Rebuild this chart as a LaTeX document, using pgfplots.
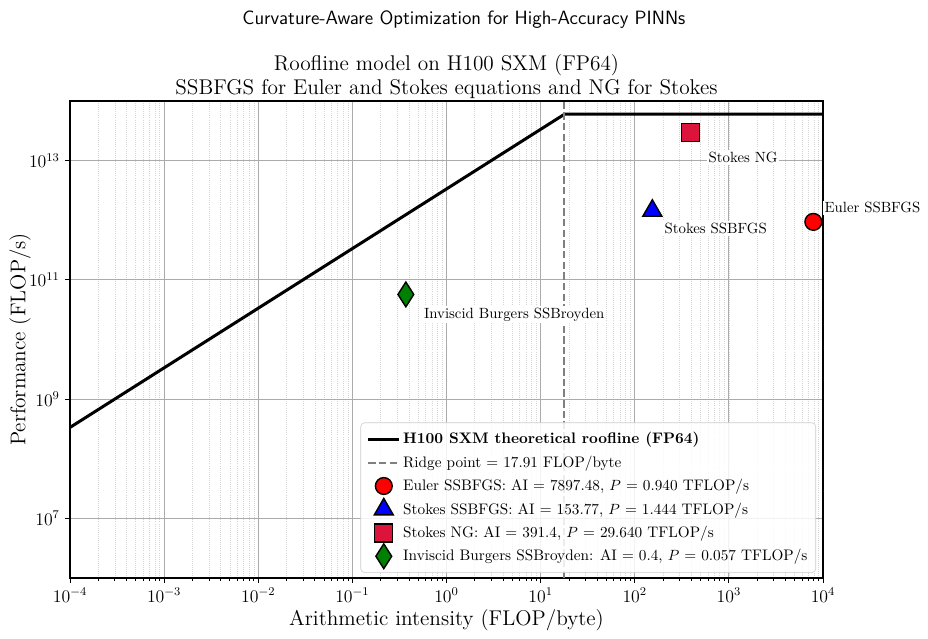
\documentclass[border=0pt]{standalone}
\usepackage{pgfplots}
\pgfplotsset{compat=1.18}
\definecolor{crimson}{RGB}{220,20,60}
\definecolor{mplgreen}{RGB}{0,128,0}
\definecolor{mplgray}{RGB}{128,128,128}
\begin{document}
\begin{tikzpicture}
\useasboundingbox (-47.3pt,-40.54pt) rectangle (579.75pt,390.56pt);
\begin{axis}[
  at={(0,0)}, anchor=south west,
  scale only axis, width=508.8pt, height=322.3pt,
  xmode=log, ymode=log,
  xmin=1e-4, xmax=1e4, ymin=1e6, ymax=1e14,
  xtick={1e-4,1e-3,1e-2,1e-1,1,1e1,1e2,1e3,1e4},
  ytick={1e7,1e9,1e11,1e13},
  minor ytick={},
  tick align=outside,
  major tick length=3.4pt, minor tick length=2pt,
  xtick pos=bottom, ytick pos=left,
  xmajorgrids=true, ymajorgrids=true, xminorgrids=true, yminorgrids=false,
  major grid style={draw=black!33, line width=0.6pt},
  minor grid style={draw=black!16, densely dotted, line width=0.5pt},
  axis line style={line width=1.2pt},
  every tick/.style={black, line width=0.6pt},
  tick label style={font=\fontsize{12}{14}\selectfont},
  clip=false,
  legend style={at={(0.9908,0.0105)}, anchor=south east,
    draw=black!20, rounded corners=2.7pt, fill=white, fill opacity=0.85, text opacity=1,
    font=\fontsize{10.3}{12.4}\selectfont, row sep=2.6pt, inner xsep=4pt, inner ysep=4.5pt,
    nodes={inner xsep=1.6pt}},
  legend cell align=left,
  legend image post style={/tikz/fill opacity=1, /tikz/draw opacity=1},
  legend image code/.code={\draw[mark repeat=2,mark phase=2] plot coordinates {(0cm,0cm) (0.37cm,0cm) (0.74cm,0cm)};},
]
\addplot[black, line width=2.03pt] coordinates {(1e-4,3.35e8) (17.91,6e13) (1e4,6e13)};
\addlegendentry{\textbf{H100 SXM theoretical roofline (FP64)}}
\addplot[mplgray, line width=1.35pt, dash pattern=on 5pt off 2.2pt] coordinates {(17.91,1e6) (17.91,1e14)};
\addlegendentry{Ridge point = 17.91 FLOP/byte}
\addplot[only marks, mark=*, mark size=5.68pt, mark options={fill=red, draw=black, line width=0.95pt},
  legend image code/.code={\draw[overlay] plot coordinates {(0.37cm,0cm)};}] coordinates {(7897.48,9.40e11)};
\addlegendentry{Euler SSBFGS: AI = 7897.48, $P$ = 0.940 TFLOP/s}
\addplot[only marks, mark=triangle*, mark size=7.43pt, mark options={fill=blue, draw=black, line width=0.95pt},
  legend image code/.code={\draw[overlay] plot coordinates {(0.37cm,0cm)};}] coordinates {(153.77,1.444e12)};
\addlegendentry{Stokes SSBFGS: AI = 153.77, $P$ = 1.444 TFLOP/s}
\addplot[only marks, mark=square*, mark size=6.08pt, mark options={fill=crimson, draw=black, line width=0.95pt},
  legend image code/.code={\draw[overlay] plot coordinates {(0.37cm,0cm)};}] coordinates {(391.4,2.964e13)};
\addlegendentry{Stokes NG: AI = 391.4, $P$ = 29.640 TFLOP/s}
\addplot[only marks, mark=diamond*, mark size=8.38pt, mark options={fill=mplgreen, draw=black, line width=0.95pt, xscale=0.85},
  legend image code/.code={\draw[overlay] plot coordinates {(0.37cm,0cm)};}] coordinates {(0.37,5.7e10)};
\addlegendentry{Inviscid Burgers SSBroyden: AI = 0.4, $P$ = 0.057 TFLOP/s}
\begin{scope}[every node/.style={font=\fontsize{10}{12}\selectfont, fill=white, inner sep=1.3pt, anchor=west}]
\node[xshift=10.8pt, yshift=-13.5pt] at (axis cs:0.37,5.7e10) {Inviscid Burgers SSBroyden};
\node[xshift=6.8pt, yshift=-12.2pt] at (axis cs:153.77,1.444e12) {Stokes SSBFGS};
\node[xshift=10.8pt, yshift=-16.9pt] at (axis cs:391.4,2.964e13) {Stokes NG};
\node[xshift=6.1pt, yshift=9.5pt] at (axis cs:7897.48,9.40e11) {Euler SSBFGS};
\end{scope}
\end{axis}
\node[font=\sffamily\fontsize{13}{15}\selectfont] at (266.2pt,377pt) {Curvature-Aware Optimization for High-Accuracy PINNs};
\node[font=\fontsize{14.4}{17}\selectfont] at (254.4pt,346.6pt) {Roofline model on H100 SXM (FP64)};
\node[font=\fontsize{14.4}{17}\selectfont] at (254.4pt,330.6pt) {SSBFGS for Euler and Stokes equations and NG for Stokes};
\node[font=\fontsize{14.4}{17}\selectfont] at (254.4pt,-28.4pt) {Arithmetic intensity (FLOP/byte)};
\node[font=\fontsize{14.4}{17}\selectfont, rotate=90] at (-33.8pt,161.2pt) {Performance (FLOP/s)};
\end{tikzpicture}
\end{document}
